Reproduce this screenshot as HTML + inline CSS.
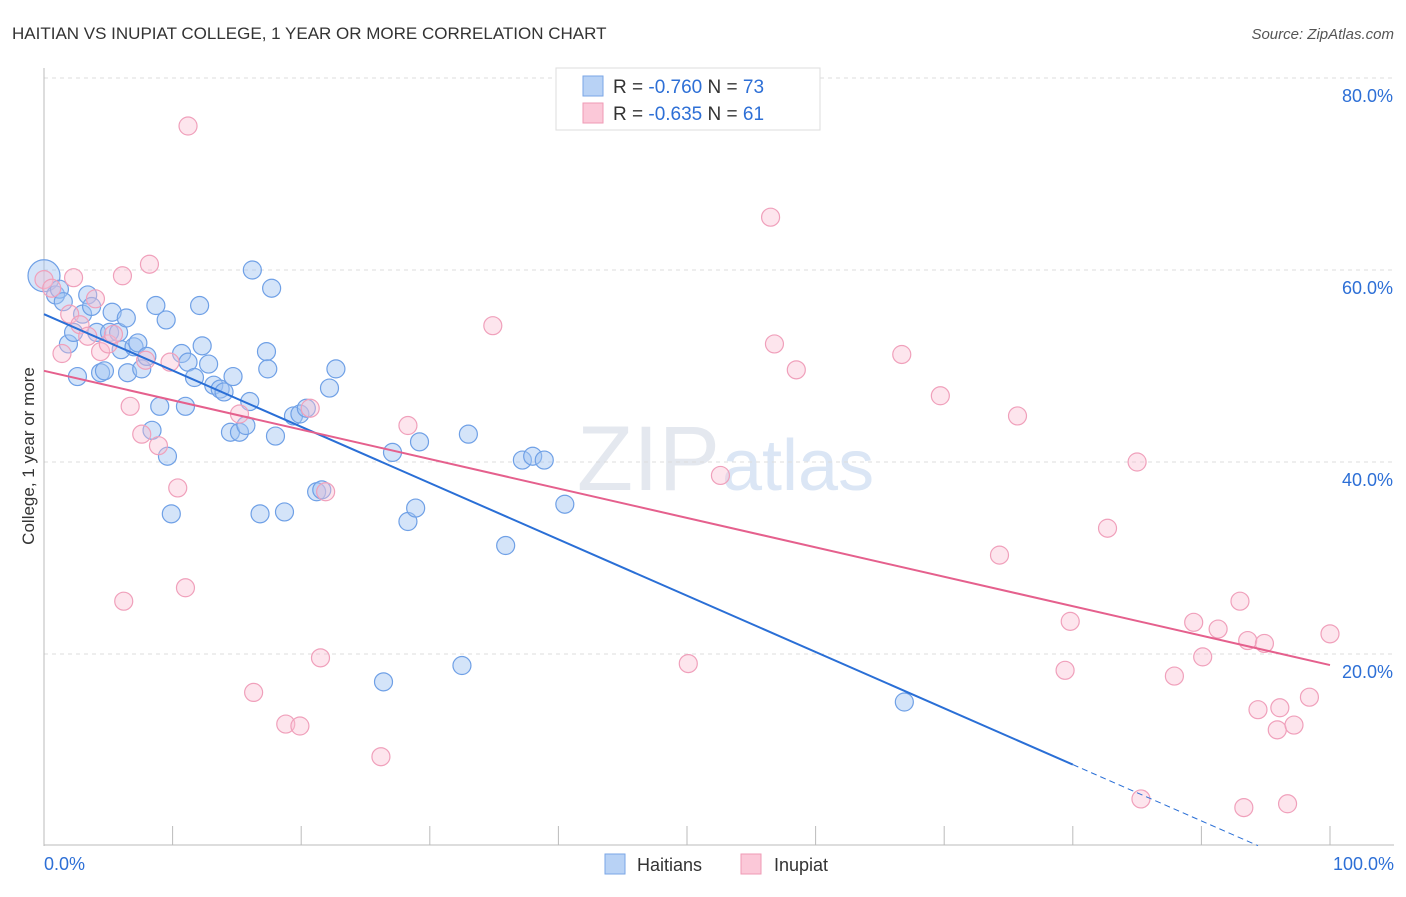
<!DOCTYPE html>
<html><head><meta charset="utf-8"><style>
body{margin:0;background:#fff;font-family:"Liberation Sans",sans-serif}
svg text{font-family:"Liberation Sans",sans-serif}
</style></head><body>
<svg id="c" width="1406" height="892" xmlns="http://www.w3.org/2000/svg">
<text x="12" y="39" font-size="17" fill="#333">HAITIAN VS INUPIAT COLLEGE, 1 YEAR OR MORE CORRELATION CHART</text>
<text x="1394" y="39" font-size="15" fill="#555" text-anchor="end" font-style="italic">Source: ZipAtlas.com</text>
<text x="720" y="490" font-size="92" fill="#e4e8ef" text-anchor="end" font-family="Liberation Serif">ZIP</text>
<text x="722" y="490" font-size="72" fill="#dbe6f5">atlas</text>
<g id="grid"></g><g id="axes"></g><g id="pts"></g><g id="lines"></g>
<text transform="translate(34,456) rotate(-90)" font-size="17" fill="#333" text-anchor="middle">College, 1 year or more</text>
<g>
<rect x="556" y="68" width="264" height="62" fill="#fff" stroke="#ddd"/>
<rect x="583" y="76" width="20" height="20" fill="#b8d2f5" stroke="#7aa6e6"/>
<rect x="583" y="103" width="20" height="20" fill="#fbc8d8" stroke="#ef9ab5"/>
<text x="613" y="93" font-size="19" fill="#333">R = <tspan fill="#2d6fd6">-0.760</tspan>   N = <tspan fill="#2d6fd6">73</tspan></text>
<text x="613" y="120" font-size="19" fill="#333">R = <tspan fill="#2d6fd6">-0.635</tspan>   N =  <tspan fill="#2d6fd6">61</tspan></text>
</g>
<g>
<rect x="605" y="854" width="20" height="20" fill="#b8d2f5" stroke="#7aa6e6"/>
<text x="637" y="871" font-size="18" fill="#333">Haitians</text>
<rect x="741" y="854" width="20" height="20" fill="#fbc8d8" stroke="#ef9ab5"/>
<text x="774" y="871" font-size="18" fill="#333">Inupiat</text>
</g>
</svg>
<script>
const blueX=[0,0.9,1.2,1.5,1.9,2.3,2.6,3,3.4,3.7,4.1,4.4,4.7,5.3,5.1,5.8,6,6.4,6.5,7,7.3,7.6,8,8.4,8.7,9,9.5,9.6,9.9,10.7,11,11.2,11.7,12.1,12.3,12.8,13.2,13.7,14,14.5,14.7,15.2,15.7,16,16.2,16.8,17.3,17.4,17.7,18,18.7,19.4,19.9,20.4,21.2,21.6,22.2,22.7,27.1,26.4,28.3,28.9,29.2,32.5,33,35.9,37.2,38,38.9,40.5,66.9];
const blueY=[59.4,57.4,58,56.7,52.3,53.5,48.9,55.4,57.4,56.2,53.5,49.3,49.5,55.6,53.5,53.5,51.7,55,49.3,52,52.4,49.7,51,43.3,56.3,45.8,54.8,40.6,34.6,51.3,45.8,50.4,48.8,56.3,52.1,50.2,48,47.6,47.3,43.1,48.9,43.1,43.8,46.3,60,34.6,51.5,49.7,58.1,42.7,34.8,44.8,45,45.6,36.9,37.1,47.7,49.7,41,17.1,33.8,35.2,42.1,18.8,42.9,31.3,40.2,40.6,40.2,35.6,15]; 
const pinkX=[0,0.6,1.4,2,2.3,2.8,3.4,4,4.4,5,5.4,6.1,6.2,6.7,7.6,7.9,8.2,8.9,9.8,10.4,11,11.2,15.2,16.3,18.8,19.9,20.7,21.5,21.9,26.2,28.3,34.9,50.1,52.6,56.5,56.8,58.5,66.7,69.7,74.3,75.7,79.4,79.8,82.7,85,85.3,87.9,89.4,90.1,91.3,93,93.3,93.6,94.4,94.9,95.9,96.1,97.2,96.7,98.4,100];
const pinkY=[59,58.1,51.3,55.4,59.2,54.3,53.1,57,51.5,52.3,53.3,59.4,25.5,45.8,42.9,50.6,60.6,41.7,50.4,37.3,26.9,75,45,16,12.7,12.5,45.6,19.6,36.9,9.3,43.8,54.2,19,38.6,65.5,52.3,49.6,51.2,46.9,30.3,44.8,18.3,23.4,33.1,40,4.9,17.7,23.3,19.7,22.6,25.5,4,21.4,14.2,21.1,12.1,14.4,12.6,4.4,15.5,22.1];
const gridVals=[20,40,60,80];
const X=v=>44+v*12.86, Y=v=>846-v*9.6;
const ns="http://www.w3.org/2000/svg";
function mk(p,t,a){const e=document.createElementNS(ns,t);for(const k in a)e.setAttribute(k,a[k]);document.getElementById(p).appendChild(e);return e;}
gridVals.forEach(g=>{
 const l=mk('grid','line',{x1:44,x2:1394,y1:Y(g),y2:Y(g),stroke:'#ddd','stroke-dasharray':'4,4'});
 
 
 const t=mk('grid','text',{x:1393,y:Y(g)+24,'font-size':18,fill:'#2d6fd6','text-anchor':'end'});
 t.textContent=g.toFixed(1)+'%';
 
 
});
const ax=mk('axes','line',{x1:44,x2:44,y1:68,y2:846,stroke:'#bbb'});


const bx=mk('axes','line',{x1:44,x2:1394,y1:845,y2:845,stroke:'#bbb'});


for(let i=0;i<=10;i++){const t=mk('axes','line',{x1:X(i*10),x2:X(i*10),y1:826,y2:845,stroke:'#bbb'});
 
 }
[['0.0%',44,'start'],['100.0%',1394,'end']].forEach(a=>{const t=mk('axes','text',{x:a[1],y:870,'font-size':18,fill:'#2d6fd6','text-anchor':a[2]});t.textContent=a[0];
 
 });
blueX.forEach((x,i)=>{const c=mk('pts','circle',{cx:X(x),cy:Y(blueY[i]),r:i==0?16:9,fill:'rgba(160,196,242,0.45)',stroke:'#6fa0e6','stroke-width':1.2});
 
 });
pinkX.forEach((x,i)=>{const c=mk('pts','circle',{cx:X(x),cy:Y(pinkY[i]),r:9,fill:'rgba(249,190,210,0.4)',stroke:'#f0a0bb','stroke-width':1.2});
 
 });
const bf=x=>55.4-0.5865*x, pf=x=>49.5-0.3065*x;
let l=mk('lines','line',{x1:X(0),y1:Y(bf(0)),x2:X(80),y2:Y(bf(80)),stroke:'#2a6fd6','stroke-width':2});


l=mk('lines','line',{x1:X(80),y1:Y(bf(80)),x2:X(94.4),y2:Y(bf(94.4)),stroke:'#2a6fd6','stroke-width':1,'stroke-dasharray':'6,4'});


l=mk('lines','line',{x1:X(0),y1:Y(pf(0)),x2:X(100),y2:Y(pf(100)),stroke:'#e5608d','stroke-width':2});


</script>
</body></html>
